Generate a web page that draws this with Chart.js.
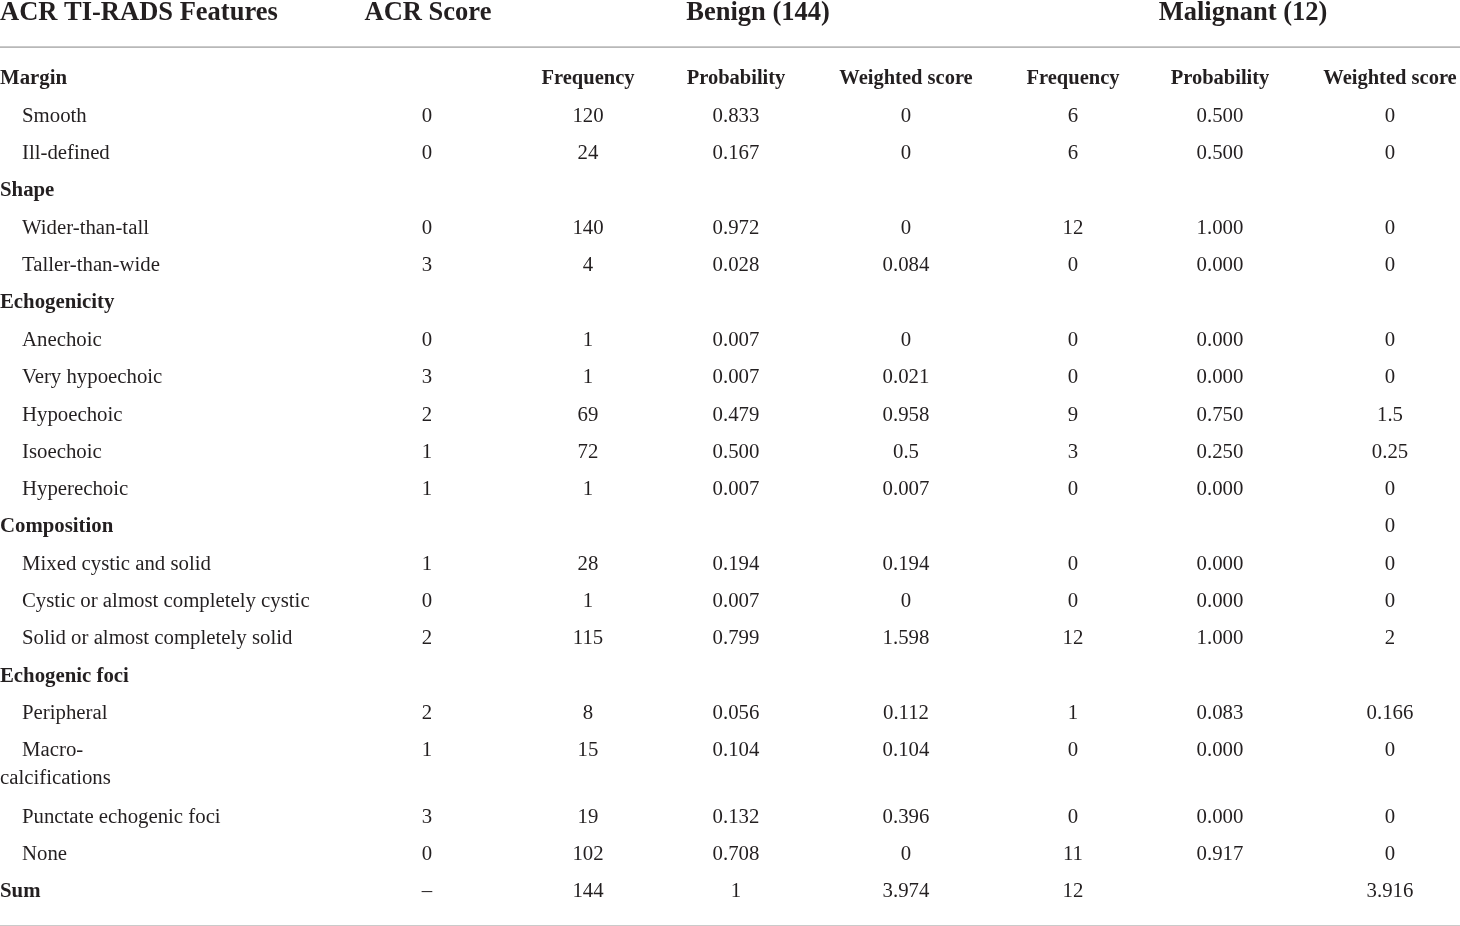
<!DOCTYPE html>
<html>
<head>
<meta charset="utf-8">
<script src="https://cdn.jsdelivr.net/npm/chart.js@4.4.1/dist/chart.umd.min.js"></script>
<style>
  html, body { margin: 0; padding: 0; background: #fff; }
  #wrap { width: 1460px; height: 926px; position: relative; }
</style>
</head>
<body>
<div id="wrap"><canvas id="tableChart"></canvas></div>
<script>
// ===============================
// ACR TI-RADS feature table, drawn on a Chart.js scatter
// ===============================

// row labels (isGroup rows are bold, no indent)
const features = [
  "Margin", "Smooth", "Ill-defined",
  "Shape", "Wider-than-tall", "Taller-than-wide",
  "Echogenicity", "Anechoic", "Very hypoechoic", "Hypoechoic", "Isoechoic", "Hyperechoic",
  "Composition", "Mixed cystic and solid", "Cystic or almost completely cystic", "Solid or almost completely solid",
  "Echogenic foci", "Peripheral", "Macro-\ncalcifications", "Punctate echogenic foci", "None",
  "Sum"
];
const isGroup = [1,0,0, 1,0,0, 1,0,0,0,0,0, 1,0,0,0, 1,0,0,0,0, 1];

const acrScore    = ["", "0","0", "", "0","3", "", "0","3","2","1","1", "", "1","0","2", "", "2","1","3","0", "–"];
const benignFreq  = ["", "120","24", "", "140","4", "", "1","1","69","72","1", "", "28","1","115", "", "8","15","19","102", "144"];
const benignProb  = ["", "0.833","0.167", "", "0.972","0.028", "", "0.007","0.007","0.479","0.500","0.007", "", "0.194","0.007","0.799", "", "0.056","0.104","0.132","0.708", "1"];
const benignWs    = ["", "0","0", "", "0","0.084", "", "0","0.021","0.958","0.5","0.007", "", "0.194","0","1.598", "", "0.112","0.104","0.396","0", "3.974"];
const malignFreq  = ["", "6","6", "", "12","0", "", "0","0","9","3","0", "", "0","0","12", "", "1","0","0","11", "12"];
const malignProb  = ["", "0.500","0.500", "", "1.000","0.000", "", "0.000","0.000","0.750","0.250","0.000", "", "0.000","0.000","1.000", "", "0.083","0.000","0.000","0.917", ""];
const malignWs    = ["", "0","0", "", "0","0", "", "0","0","1.5","0.25","0", "0", "0","0","2", "", "0.166","0","0","0", "3.916"];

const topHeaders = ["ACR TI-RADS Features", "ACR Score", "Benign (144)", "Malignant (12)"];
const subHeaders = ["Frequency", "Probability", "Weighted score", "Frequency", "Probability", "Weighted score"];

// layout: column centres in px, row heights in row units
const COL_X = [0, 427, 588, 736, 906, 1073, 1220, 1390];
const TOP_X = [0, 428, 758, 1243];
const ROW_SPAN = features.map(f => f.indexOf("\n") >= 0 ? 1.78 : 1);

const rowPos = [];
ROW_SPAN.reduce((acc, s) => { rowPos.push(acc); return acc + s; }, 0);

const columns = [acrScore, benignFreq, benignProb, benignWs, malignFreq, malignProb, malignWs];

const SERIF = "'Liberation Serif', 'DejaVu Serif', serif";
const INK = "#231f20";

const datasets = [];
// first column: feature names
datasets.push({
  label: "features",
  data: features.map((f, i) => ({ x: COL_X[0], y: rowPos[i], text: f, bold: !!isGroup[i], indent: isGroup[i] ? 0 : 22, align: "left" })),
  pointRadius: 0
});
columns.forEach((col, c) => {
  datasets.push({
    label: "col" + (c + 1),
    data: col.map((v, i) => ({ x: COL_X[c + 1], y: rowPos[i], text: v, align: "center" })),
    pointRadius: 0
  });
});
// sub header row sits on the "Margin" row
datasets.push({
  label: "subHeaders",
  data: subHeaders.map((h, k) => ({ x: COL_X[k + 2], y: rowPos[0], text: h, bold: true, size: 20.5, align: "center" })),
  pointRadius: 0
});
datasets.push({
  label: "topHeaders",
  data: topHeaders.map((h, k) => ({ x: TOP_X[k], y: -1.77, text: h, bold: true, size: 26.5, align: k === 0 ? "left" : "center" })),
  pointRadius: 0
});

const tablePlugin = {
  id: "tableText",
  afterDatasetsDraw(chart) {
    const ctx = chart.ctx;
    const y = chart.scales.y;
    const area = chart.chartArea;

    // horizontal rules
    ctx.save();
    ctx.strokeStyle = "#b8b8b8";
    ctx.lineWidth = 1.6;
    [-0.857, 22.69].forEach(v => {
      const py = y.getPixelForValue(v);
      ctx.beginPath();
      ctx.moveTo(area.left, py);
      ctx.lineTo(area.right, py);
      ctx.stroke();
    });

    ctx.fillStyle = INK;
    ctx.textBaseline = "middle";
    chart.data.datasets.forEach((ds, di) => {
      const meta = chart.getDatasetMeta(di);
      meta.data.forEach((el, i) => {
        const d = ds.data[i];
        if (!d.text) return;
        const size = d.size || 20.8;
        ctx.font = (d.bold ? "bold " : "") + size + "px " + SERIF;
        ctx.textAlign = d.align;
        const lines = d.text.split("\n");
        lines.forEach((ln, li) => {
          const px = el.x + (li === 0 ? (d.indent || 0) : 0);
          ctx.fillText(ln, px, el.y + li * 28);
        });
      });
    });
    ctx.restore();
  }
};

new Chart(document.getElementById("tableChart"), {
  type: "scatter",
  data: { datasets },
  options: {
    responsive: true,
    maintainAspectRatio: false,
    animation: false,
    layout: { padding: 0 },
    plugins: { legend: { display: false }, tooltip: { enabled: false } },
    scales: {
      x: { type: "linear", min: 0, max: 1460, display: false },
      y: { type: "linear", min: -2.12, max: 22.69, reverse: true, display: false }
    }
  },
  plugins: [tablePlugin]
});
</script>
</body>
</html>
